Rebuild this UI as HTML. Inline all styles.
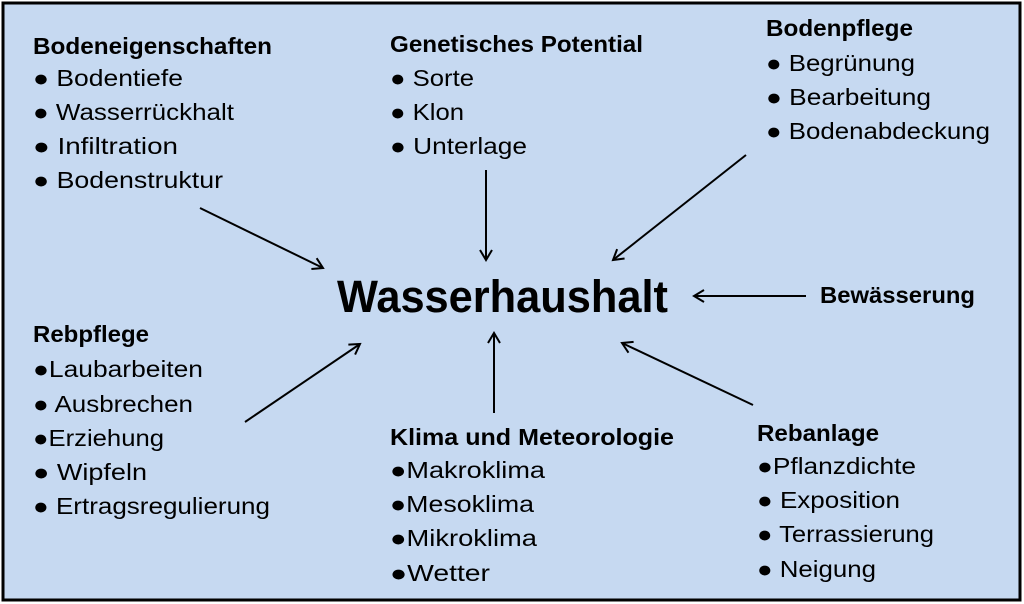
<!DOCTYPE html>
<html><head><meta charset="utf-8"><style>
html,body{margin:0;padding:0;background:#fff}
svg{display:block}
text{font-family:"Liberation Sans",sans-serif;font-size:23px;fill:#000}
.b{font-weight:bold}
</style></head><body>
<svg width="1024" height="604" viewBox="0 0 1024 604" xmlns="http://www.w3.org/2000/svg">
<defs><marker id="a" markerWidth="14" markerHeight="14" refX="12" refY="7" orient="auto" markerUnits="userSpaceOnUse"><path d="M2,1 L12,7 L2,13" fill="none" stroke="#000" stroke-width="2"/></marker></defs>
<rect x="3" y="3" width="1017" height="597" fill="#c6d9f1" stroke="#000" stroke-width="3"/>
<g stroke="#000" stroke-width="2" marker-end="url(#a)">
<line x1="200" y1="208" x2="323" y2="268"/>
<line x1="486" y1="170" x2="486" y2="260"/>
<line x1="746" y1="155" x2="613" y2="260"/>
<line x1="806" y1="296" x2="694" y2="296"/>
<line x1="245" y1="422" x2="360" y2="344"/>
<line x1="494" y1="413" x2="494" y2="333"/>
<line x1="753" y1="405" x2="622" y2="343"/>
</g>
<text class="b" x="337" y="312" style="font-size:45px" textLength="331" lengthAdjust="spacingAndGlyphs">Wasserhaushalt</text>
<text class="b" x="33" y="54" textLength="239" lengthAdjust="spacingAndGlyphs">Bodeneigenschaften</text>
<text x="33" y="86" textLength="150" lengthAdjust="spacingAndGlyphs">● Bodentiefe</text>
<text x="33" y="120" textLength="201" lengthAdjust="spacingAndGlyphs">● Wasserrückhalt</text>
<text x="33" y="154" textLength="145" lengthAdjust="spacingAndGlyphs">● Infiltration</text>
<text x="33" y="188" textLength="190" lengthAdjust="spacingAndGlyphs">● Bodenstruktur</text>
<text class="b" x="390" y="52" textLength="253" lengthAdjust="spacingAndGlyphs">Genetisches Potential</text>
<text x="390" y="86" textLength="84" lengthAdjust="spacingAndGlyphs">● Sorte</text>
<text x="390" y="120" textLength="74" lengthAdjust="spacingAndGlyphs">● Klon</text>
<text x="390" y="154" textLength="137" lengthAdjust="spacingAndGlyphs">● Unterlage</text>
<text class="b" x="766" y="36" textLength="147" lengthAdjust="spacingAndGlyphs">Bodenpflege</text>
<text x="766" y="71" textLength="149" lengthAdjust="spacingAndGlyphs">● Begrünung</text>
<text x="766" y="105" textLength="165" lengthAdjust="spacingAndGlyphs">● Bearbeitung</text>
<text x="766" y="139" textLength="224" lengthAdjust="spacingAndGlyphs">● Bodenabdeckung</text>
<text class="b" x="820" y="303" textLength="155" lengthAdjust="spacingAndGlyphs">Bewässerung</text>
<text class="b" x="33" y="342" textLength="116" lengthAdjust="spacingAndGlyphs">Rebpflege</text>
<text x="33" y="377" textLength="170" lengthAdjust="spacingAndGlyphs">●Laubarbeiten</text>
<text x="33" y="412" textLength="160" lengthAdjust="spacingAndGlyphs">● Ausbrechen</text>
<text x="33" y="446" textLength="131" lengthAdjust="spacingAndGlyphs">●Erziehung</text>
<text x="33" y="480" textLength="114" lengthAdjust="spacingAndGlyphs">● Wipfeln</text>
<text x="33" y="514" textLength="237" lengthAdjust="spacingAndGlyphs">● Ertragsregulierung</text>
<text class="b" x="390" y="445" textLength="284" lengthAdjust="spacingAndGlyphs">Klima und Meteorologie</text>
<text x="390" y="478" textLength="155" lengthAdjust="spacingAndGlyphs">●Makroklima</text>
<text x="390" y="512" textLength="144" lengthAdjust="spacingAndGlyphs">●Mesoklima</text>
<text x="390" y="546" textLength="147" lengthAdjust="spacingAndGlyphs">●Mikroklima</text>
<text x="390" y="581" textLength="100" lengthAdjust="spacingAndGlyphs">●Wetter</text>
<text class="b" x="757" y="441" textLength="122" lengthAdjust="spacingAndGlyphs">Rebanlage</text>
<text x="757" y="474" textLength="159" lengthAdjust="spacingAndGlyphs">●Pflanzdichte</text>
<text x="757" y="508" textLength="143" lengthAdjust="spacingAndGlyphs">● Exposition</text>
<text x="757" y="542" textLength="177" lengthAdjust="spacingAndGlyphs">● Terrassierung</text>
<text x="757" y="577" textLength="119" lengthAdjust="spacingAndGlyphs">● Neigung</text>
</svg>
</body></html>
